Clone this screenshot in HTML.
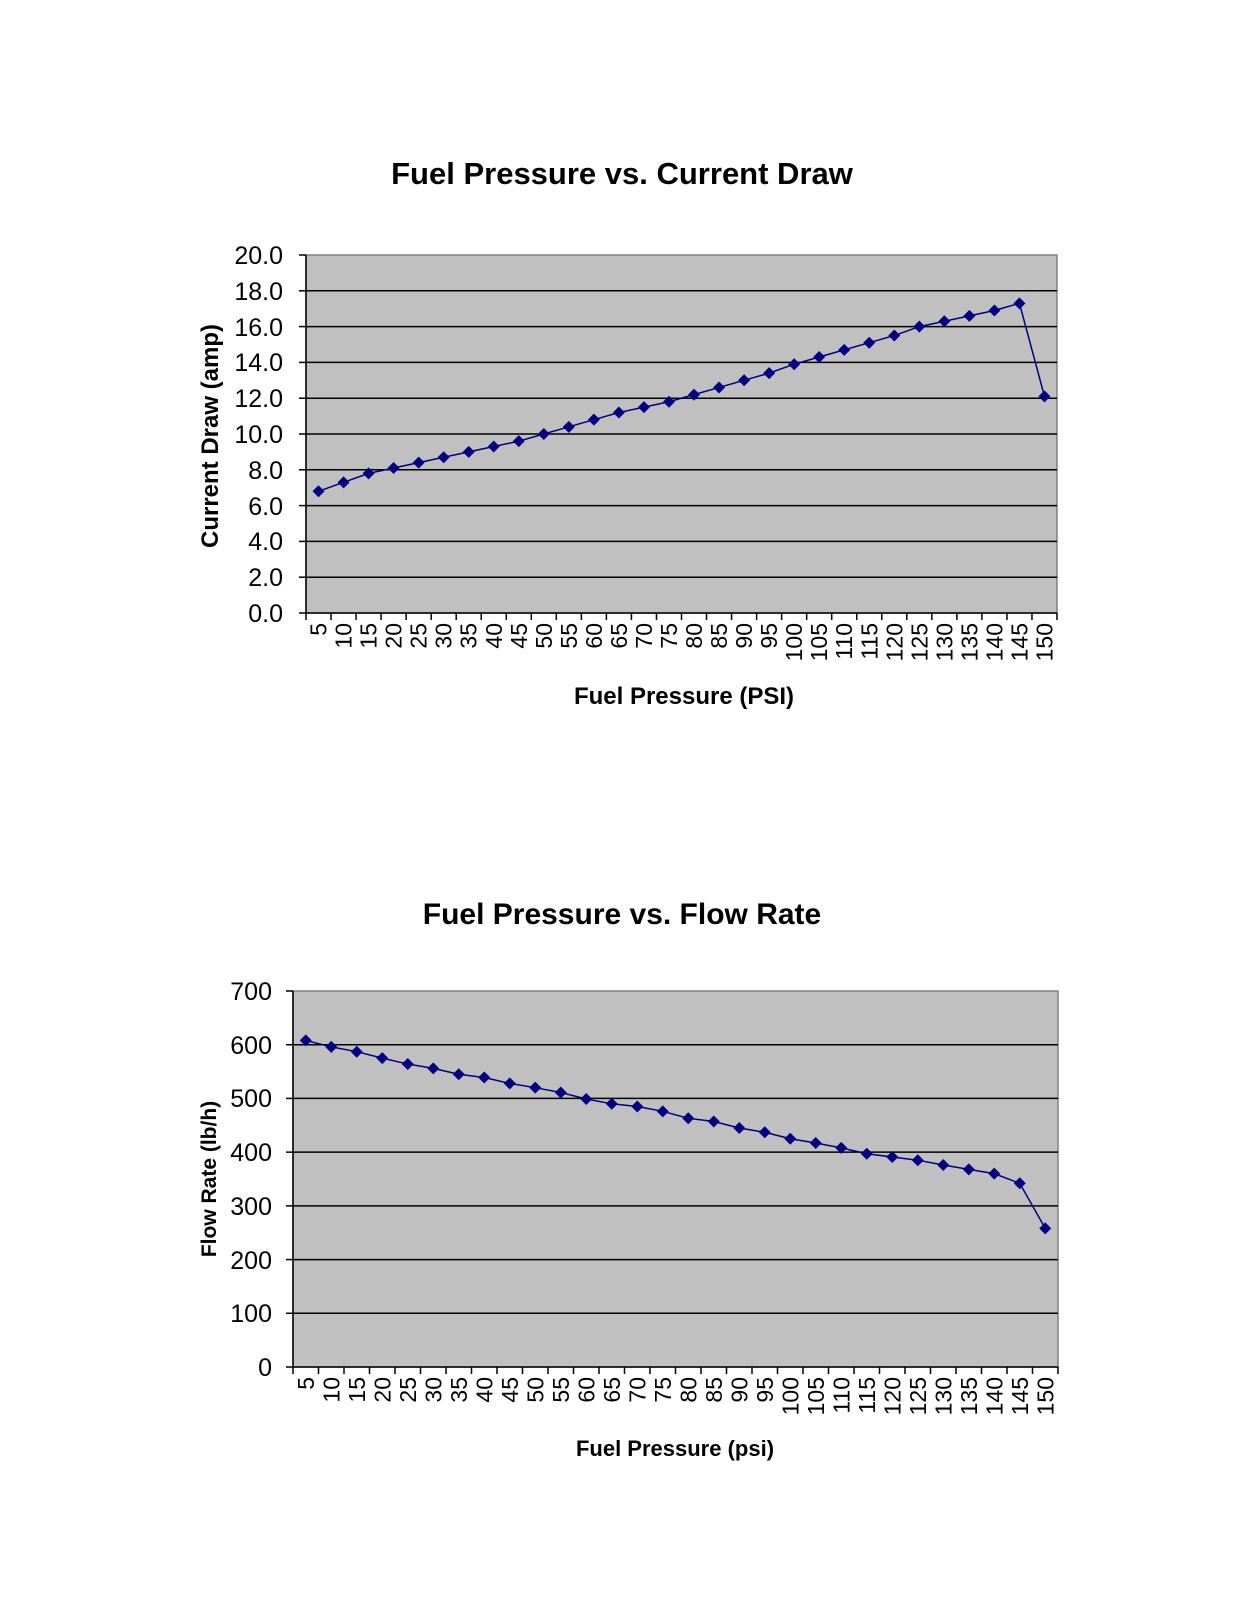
<!DOCTYPE html>
<html><head><meta charset="utf-8"><style>
html,body{margin:0;padding:0;background:#fff}
svg{display:block;font-family:"Liberation Sans",Arial,sans-serif}
</style></head><body>
<svg id="s" width="1243" height="1608" viewBox="0 0 1243 1608">
<rect width="1243" height="1608" fill="#fff"/>
<text x="622" y="184" font-size="31" font-weight="bold" text-anchor="middle">Fuel Pressure vs. Current Draw</text>
<text x="622" y="924" font-size="30" font-weight="bold" text-anchor="middle">Fuel Pressure vs. Flow Rate</text>
<text transform="translate(218,436) rotate(-90)" font-size="24" font-weight="bold" text-anchor="middle">Current Draw (amp)</text>
<text transform="translate(216,1179) rotate(-90)" font-size="21" font-weight="bold" text-anchor="middle">Flow Rate (lb/h)</text>
<text x="684" y="704" font-size="24" font-weight="bold" text-anchor="middle">Fuel Pressure (PSI)</text>
<text x="675" y="1456" font-size="22" font-weight="bold" text-anchor="middle">Fuel Pressure (psi)</text>
<g font-size="25" text-anchor="end">
<text x="283" y="264">20.0</text><text x="283" y="300">18.0</text><text x="283" y="336">16.0</text><text x="283" y="371">14.0</text><text x="283" y="407">12.0</text><text x="283" y="443">10.0</text><text x="283" y="479">8.0</text><text x="283" y="515">6.0</text><text x="283" y="550">4.0</text><text x="283" y="586">2.0</text><text x="283" y="622">0.0</text>
<text x="272" y="1000">700</text><text x="272" y="1054">600</text><text x="272" y="1107">500</text><text x="272" y="1161">400</text><text x="272" y="1215">300</text><text x="272" y="1269">200</text><text x="272" y="1322">100</text><text x="272" y="1376">0</text>
</g>
<g id="t1" font-size="23" text-anchor="end"></g>
<g id="t2" font-size="23" text-anchor="end"></g>
<g id="c1"></g><g id="c2"></g>
</svg>
<div style="display:none">
<span>5 10 15 20 25 30 35 40 45 50 55 60 65 70 75 80 85 90 95 100 105 110 115 120 125 130 135 140 145 150</span>
</div>
<script>
var NS="http://www.w3.org/2000/svg";
function el(p,n,a,t){var e=document.createElementNS(NS,n);for(var k in a)e.setAttribute(k,a[k]);if(t!=null)e.textContent=t;p.appendChild(e);return e;}
function chart(g,tg,L,T,R,B,max,step,data){
 el(g,"rect",{x:L,y:T,width:R-L,height:B-T,fill:"#c0c0c0",stroke:"#808080","stroke-width":1.5});
 var n=max/step;
 for(var i=0;i<=n;i++){var y=B-(B-T)*i/n;
  if(i>0&&i<n)el(g,"line",{x1:L,x2:R,y1:y,y2:y,stroke:"#000","stroke-width":1.5});
  el(g,"line",{x1:L-7,x2:L,y1:y,y2:y,stroke:"#000","stroke-width":1.5});}
 el(g,"line",{x1:L,x2:L,y1:T,y2:B,stroke:"#000","stroke-width":1.5});
 el(g,"line",{x1:L,x2:R,y1:B,y2:B,stroke:"#000","stroke-width":1.5});
 var w=(R-L)/30,pts=[];
 for(var i=0;i<=30;i++){var x=L+w*i;el(g,"line",{x1:x,x2:x,y1:B,y2:B+7,stroke:"#000","stroke-width":1.5});}
 for(var i=0;i<30;i++){var x=L+w*(i+0.5);
  el(tg,"text",{transform:"translate("+(x+8)+","+(B+10)+") rotate(-90)"},String(5*(i+1)));
  var y=B-(B-T)*data[i]/max;pts.push(x+","+y);}
 el(g,"polyline",{points:pts.join(" "),fill:"none",stroke:"#000080","stroke-width":1.5});
 pts.forEach(function(p){var a=p.split(",");var x=+a[0],y=+a[1];
  el(g,"polygon",{points:(x-6)+","+y+" "+x+","+(y-6)+" "+(x+6)+","+y+" "+x+","+(y+6),fill:"#000080"});});
}
chart(document.getElementById("c1"),document.getElementById("t1"),306,255,1057,613,20,2,
[6.8,7.3,7.8,8.1,8.4,8.7,9.0,9.3,9.6,10.0,10.4,10.8,11.2,11.5,11.8,12.2,12.6,13.0,13.4,13.9,14.3,14.7,15.1,15.5,16.0,16.3,16.6,16.9,17.3,12.1]);
chart(document.getElementById("c2"),document.getElementById("t2"),293,991,1058,1367,700,100,
[608,596,587,575,564,556,545,539,528,520,511,499,490,485,476,463,457,445,437,425,417,408,397,391,385,376,368,360,342,258]);
</script>
</body></html>
